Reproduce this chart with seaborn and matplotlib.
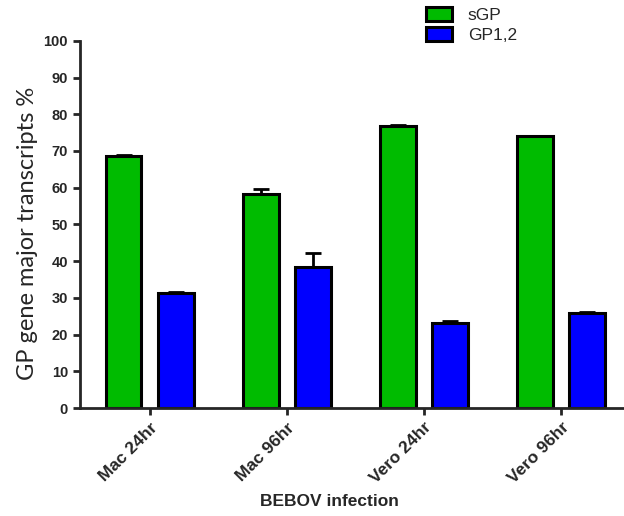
import numpy as np
import pandas as pd
import matplotlib
matplotlib.use('Agg')
import matplotlib.pyplot as plt
import seaborn as sns

groups = ['Mac 24hr', 'Mac 96hr', 'Vero 24hr', 'Vero 96hr']
series = ['sGP', 'GP1,2']
sgp = [68.7, 58.4, 76.7, 74.0]
gp12 = [31.3, 38.4, 23.3, 26.0]
sgp_err = [0.3, 1.2, 0.3, 0.1]
gp12_err = [0.3, 3.8, 0.3, 0.1]
colors = ['#00BB00', '#0000FF']

df = pd.DataFrame({
    'group': groups * 2,
    'series': [series[0]] * 4 + [series[1]] * 4,
    'value': sgp + gp12,
})
errs = sgp_err + gp12_err

sns.set_style('ticks')
plt.rcParams['font.family'] = ['Liberation Sans', 'DejaVu Sans']

fig = plt.figure(figsize=(6.24, 5.16), dpi=100)
ax = fig.add_axes([0.128, 0.209, 0.87, 0.712])

sns.barplot(data=df, x='group', y='value', hue='series', palette=colors,
            saturation=1, width=0.76, gap=0.32, errorbar=None,
            edgecolor='black', linewidth=2.2, ax=ax, zorder=2)

# upward-only error bars at the bar tops
bars = [p for p in ax.patches if p.get_height() > 0][:8]
for p, v, e in zip(bars, df['value'], errs):
    xc = p.get_x() + p.get_width() / 2
    ax.errorbar(xc, v, yerr=[[0], [e]], fmt='none', ecolor='black',
                elinewidth=2, capsize=6, capthick=2, zorder=1)

ax.set_ylim(0, 100)
ax.set_yticks(range(0, 101, 10))
ax.set_xlim(-0.51, 3.45)
for s in ['top', 'right']:
    ax.spines[s].set_visible(False)
for s in ['left', 'bottom']:
    ax.spines[s].set_linewidth(2)
ax.tick_params(width=2, length=5, labelsize=10.5)
for t in ax.get_yticklabels():
    t.set_fontweight('bold')
ax.set_xticks(range(len(groups)))
ax.set_xticklabels(groups, rotation=45, ha='right', rotation_mode='anchor',
                   fontweight='bold', fontsize=12.5)
ax.set_ylabel('GP gene major transcripts %', fontsize=17,
              family=['Lato', 'DejaVu Sans'])
ax.yaxis.set_label_coords(-0.078, 0.475)
ax.set_xlabel('BEBOV infection', fontsize=12.5, fontweight='bold')
ax.xaxis.set_label_coords(0.459, -0.235)

leg = ax.legend(title=None, loc='upper left', bbox_to_anchor=(0.625, 1.11),
                frameon=False, fontsize=12.5, handlelength=1.5, handleheight=0.8,
                borderaxespad=0, labelspacing=0.25, handletextpad=0.9)

plt.savefig('out.png', dpi=100)
